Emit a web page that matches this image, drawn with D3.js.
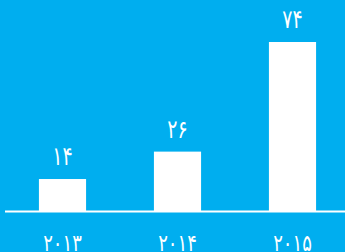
<!DOCTYPE html>
<html>
<head>
<meta charset="utf-8">
<title>Chart</title>
<style>
  html, body { margin: 0; padding: 0; background: #00aeef; }
  svg { display: block; }
</style>
</head>
<body>
<div id="chart"></div>
<script src="https://d3js.org/d3.v7.min.js"></script>
<script>
var years = ['۲۰۱۳', '۲۰۱۴', '۲۰۱۵'];
var values = [14, 26, 74];
var valueLabels = ['۱۴', '۲۶', '۷۴'];

var width = 345, height = 252;
var baseY = 211;

var svg = d3.select('#chart').append('svg')
    .attr('width', width)
    .attr('height', height);

svg.append('rect')
    .attr('width', width)
    .attr('height', height)
    .attr('fill', '#00aeef');

var x = d3.scaleBand()
    .domain(years)
    .range([5, 350])
    .paddingInner(0.59)
    .paddingOuter(0.295);

var y = d3.scaleLinear()
    .domain([0, 74])
    .range([baseY, 42]);

// bars
svg.selectAll('rect.bar')
    .data(values)
  .enter().append('rect')
    .attr('class', 'bar')
    .attr('x', function(d, i) { return x(years[i]); })
    .attr('y', function(d) { return y(d); })
    .attr('width', x.bandwidth())
    .attr('height', function(d) { return baseY - y(d); })
    .attr('fill', '#ffffff');

// value labels (digits stretched a bit to look like the taller persian face)
svg.selectAll('text.val')
    .data(values)
  .enter().append('text')
    .attr('class', 'val')
    .attr('transform', function(d, i) {
      var cx = x(years[i]) + x.bandwidth() / 2;
      return 'translate(' + cx + ',' + (y(d) - 14) + ') scale(1,1.35)';
    })
    .attr('text-anchor', 'middle')
    .attr('fill', '#ffffff')
    .style('font-family', 'DejaVu Sans, sans-serif')
    .style('font-size', '19px')
    .text(function(d, i) { return valueLabels[i]; });

// baseline
svg.append('line')
    .attr('x1', 5)
    .attr('x2', width)
    .attr('y1', baseY + 0.5)
    .attr('y2', baseY + 0.5)
    .attr('stroke', '#ffffff')
    .attr('stroke-width', 2);

// x axis labels
var xAxis = d3.axisBottom(x).tickSize(0).tickPadding(0);
var gx = svg.append('g')
    .attr('transform', 'translate(0,' + 236 + ')')
    .call(xAxis);
gx.select('.domain').remove();
gx.selectAll('text')
    .attr('y', 0)
    .attr('dy', 0)
    .attr('transform', 'translate(0,15) scale(1,1.3)')
    .attr('fill', '#ffffff')
    .style('font-family', 'DejaVu Sans, sans-serif')
    .style('font-size', '18px');
</script>
</body>
</html>
